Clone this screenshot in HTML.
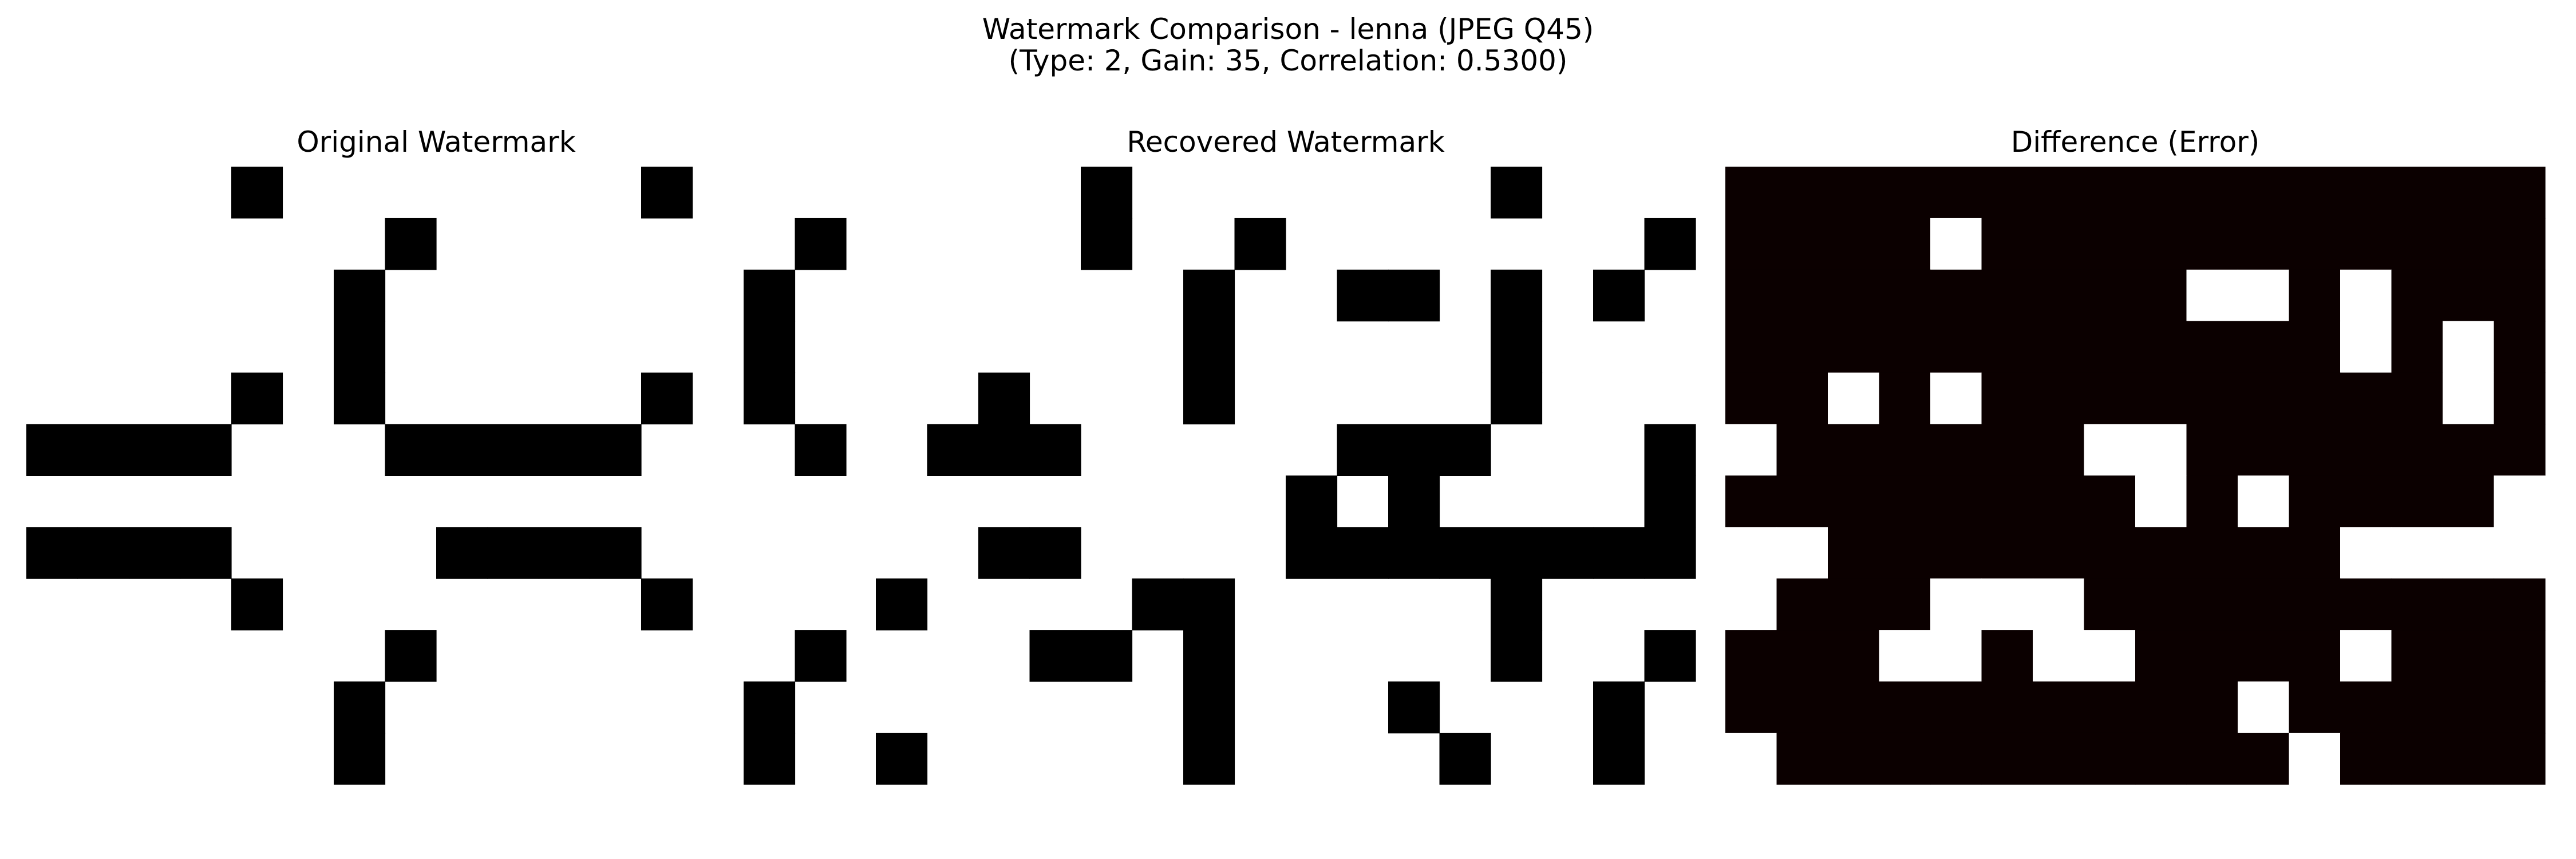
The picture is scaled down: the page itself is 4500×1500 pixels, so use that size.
<!DOCTYPE html>
<html><head><meta charset="utf-8"><style>
html,body{margin:0;padding:0;background:#fff;width:4500px;height:1500px;overflow:hidden}
text{font-family:"DejaVu Sans","Liberation Sans",sans-serif;font-size:50px;fill:#000}
</style></head><body>
<svg id="fig" width="4500" height="1500" xmlns="http://www.w3.org/2000/svg">
<rect width="4500" height="1500" fill="#fff"/>
<text x="2250" y="68" text-anchor="middle">Watermark Comparison - lenna (JPEG Q45)</text>
<text x="2250" y="123" text-anchor="middle">(Type: 2, Gain: 35, Correlation: 0.5300)</text>
<text x="762" y="265" text-anchor="middle">Original Watermark</text>
<text x="2246" y="265" text-anchor="middle">Recovered Watermark</text>
<text x="3730" y="265" text-anchor="middle">Difference (Error)</text>
<g id="p0"></g>
<g id="p1"></g>
<g id="p2"></g>
</svg>
<script>
// 1 = black pixel in watermark
const originalRows = [
"0000100000001000",
"0000000100000001",
"0000001000000010",
"0000001000000010",
"0000101000001010",
"1111000111110001",
"0000000000000000",
"1111000011110000",
"0000100000001000",
"0000000100000001",
"0000001000000010",
"0000001000000010"
];
const recoveredRows = [
"0000100000001000",
"0000100100000001",
"0000001001101010",
"0000001000001000",
"0010001000001000",
"0111000001110001",
"0000000010100001",
"0011000011111111",
"1000011000001000",
"0001101000001001",
"0000001000100010",
"1000001000010010"
];
const nCols = 16, nRows = 12;
const panelLefts = [46, 1530, 3014];
const gridTop = 291, cellW = 89.5, cellH = 89.9;
const SVGNS = "http://www.w3.org/2000/svg";
function xPos(p, c){ return panelLefts[p] + c*cellW; }
function yPos(r){ return gridTop + r*cellH; }
function cell(g, p, r, c, fill, name){
  const el = document.createElementNS(SVGNS, "rect");
  el.setAttribute("x", xPos(p,c));
  el.setAttribute("y", yPos(r));
  el.setAttribute("width", cellW + 0.6);
  el.setAttribute("height", cellH + 0.6);
  el.setAttribute("fill", fill);
  
  
  g.appendChild(el);
}
const g0 = document.getElementById("p0"), g1 = document.getElementById("p1"), g2 = document.getElementById("p2");
for (let r=0;r<nRows;r++){
  for (let c=0;c<nCols;c++){
    const o = originalRows[r][c]==="1", v = recoveredRows[r][c]==="1";
    if (o) cell(g0,0,r,c,"#000","original-pixel");
    if (v) cell(g1,1,r,c,"#000","recovered-pixel");
    cell(g2,2,r,c,(o!==v)?"#ffffff":"#0b0000","difference-pixel");
  }
}
</script>
</body></html>
